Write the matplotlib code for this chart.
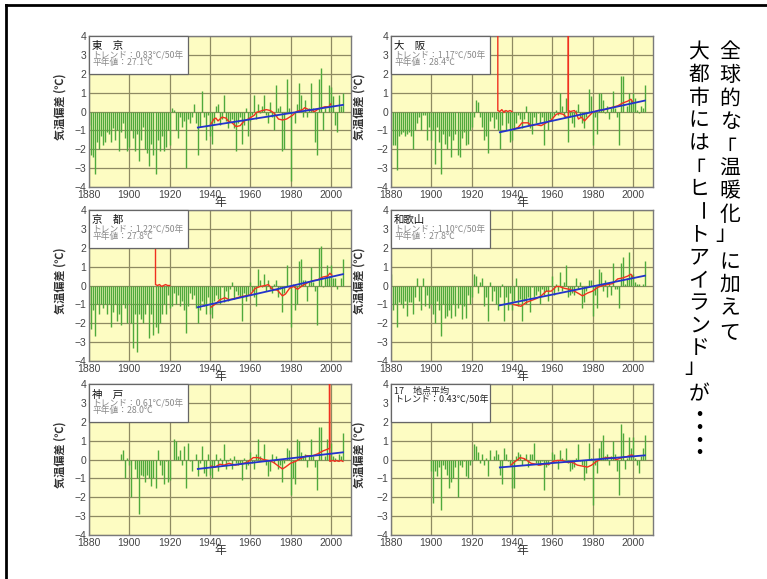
import numpy as np
import matplotlib.pyplot as plt
from matplotlib.patches import Rectangle
from matplotlib.lines import Line2D

plt.rcParams['font.family'] = ['Liberation Sans', 'Noto Sans CJK JP', 'DejaVu Sans']
JP = ['Noto Sans CJK JP', 'DejaVu Sans']

years = np.arange(1880, 2007)
nan = None

# 夏の平均気温偏差 (1880-2006)
tokyo = [-0.7, -2.3, -2.4, -3.3, -1.6, -2.0, -1.3, -1.8, -1.6, -1.1,
         -1.2, -1.6, -0.9, -1.5, -1.0, -2.1, -1.1, -0.6, -1.4, -2.1,
         -1.9, -1.0, -1.4, -2.1, -1.2, -2.6, -1.5, -0.8, -2.0, -2.2,
         -2.9, -1.7, -2.3, -3.3, -1.5, -2.1, -1.3, -2.1, -1.9, -1.0,
         -1.8, 0.2, 0.1, -1.0, -1.4, -0.3, -0.8, -0.5, -3.0, -0.4,
         -0.6, -0.3, 0.4, -0.6, -2.3, -0.8, 1.1, -0.3, -1.5, -0.2,
         -1.3, -1.7, -0.6, 0.3, 0.4, -0.7, -0.4, 0.9, -0.5, -0.9,
         -0.5, -0.4, -0.9, -2.1, -0.6, -0.3, -1.7, -0.7, 0.2, -1.3,
         -0.5, -0.2, 0.9, -0.4, 0.4, -0.1, 0.3, 0.9, -0.2, -0.6,
         0.5, -0.3, -1.0, 1.4, 0.2, 0.3, -2.1, -2.0, 1.7, 0.2,
         -3.7, 0.0, -0.6, 0.4, 1.5, 0.9, -0.3, 0.6, -0.3, 0.2,
         1.5, 0.2, -1.6, -2.3, 1.7, 2.3, -1.0, 0.2, 0.0, 1.4,
         1.3, 0.8, -0.7, -1.1, 0.9, 0.3, 1.0]
osaka = [-1.0, -1.8, -1.8, -3.1, -1.3, -1.2, -1.1, -1.3, -1.2, -1.1,
         -1.3, -2.0, -1.0, -0.6, -0.3, -1.0, -0.2, -0.2, -1.5, -0.8,
         -1.5, -1.0, -2.8, -0.8, -1.6, -3.3, -1.2, -1.7, -2.0, -1.3,
         -2.4, -1.5, -1.2, -2.3, -2.4, -1.4, -1.1, -1.8, -1.7, -1.0,
         -0.8, -0.3, 0.6, 0.5, -0.3, -0.8, -1.5, -1.3, -2.2, -0.5,
         -0.3, -0.9, -0.4, -1.0, -2.0, -0.7, 0.1, -1.0, -0.6, -1.6,
         -1.5, -1.0, -0.6, -0.2, -0.4, -0.9, -0.4, 0.3, -0.7, -0.9,
         -1.2, -0.3, -0.6, -0.1, -0.6, -0.3, -1.8, -0.5, -1.0, -0.4,
         -0.5, -0.2, 0.1, -0.2, 1.0, 0.3, -0.3, 0.7, -1.6, -0.3,
         -0.6, -0.8, 0.1, 0.4, -0.3, -0.6, -0.9, -0.3, 1.2, 0.8,
         -1.8, -0.3, -1.2, 1.0, 1.0, 0.6, -0.1, 0.3, -0.4, 0.2,
         1.1, 0.2, -0.3, -1.8, 1.9, 1.9, 0.0, 0.3, 1.0, 0.6,
         1.0, 0.7, 0.1, -0.1, 0.3, 0.2, 1.4]
kyoto = [-1.0, -2.3, -1.3, -2.7, -1.0, -1.5, -1.0, -1.2, -1.0, -1.5,
         -1.0, -2.2, -1.4, -1.0, -1.9, -1.5, -2.1, -1.0, -1.2, -2.0,
         -1.0, -2.0, -3.3, -1.5, -3.5, -1.5, -1.8, -2.0, -1.5, -1.0,
         -2.8, -1.5, -2.6, -2.2, -2.5, -2.0, -1.5, -1.0, -1.5, -0.5,
         -1.2, -1.1, -0.4, -1.0, -0.5, -1.1, -0.8, -1.3, -2.5, -1.1,
         -0.4, -0.7, -0.5, -1.2, -2.0, -1.3, -0.8, -1.1, -1.5, -0.6,
         -1.5, -1.7, -0.8, -0.5, -0.7, -1.0, -0.1, -0.9, -0.3, -0.8,
         -0.2, 0.2, -0.7, -0.3, -0.5, -0.6, -1.9, -0.4, -0.8, -0.5,
         0.2, -0.3, -0.6, -1.1, 0.9, 0.3, -0.1, 0.6, -0.3, 0.3,
         -0.2, -0.4, 0.1, 0.3, -0.6, -0.2, -1.4, -0.4, 1.1, -0.1,
         -2.2, 0.1, -1.3, -1.0, 1.3, 1.4, 0.3, 0.3, -0.8, 0.2,
         1.0, 0.2, -0.3, -2.1, 2.0, 2.1, -0.1, 0.4, 1.1, 0.5,
         1.1, 0.4, 0.4, -0.2, 0.0, 0.4, 1.4]
wakayama = [0.6, -1.3, -1.0, -2.2, -0.9, -1.0, -1.2, -0.8, -1.6, -0.9,
            -0.9, -1.5, -0.6, 0.4, -0.8, -1.3, 0.4, -1.1, -0.5, -1.2,
            -1.0, -1.5, -2.0, -0.8, -1.3, -2.7, -1.0, -1.7, -1.6, -1.3,
            -1.7, -1.0, -1.6, -1.2, -1.0, -1.8, -1.1, -1.7, -0.5, -1.0,
            -0.6, 0.6, 0.5, -0.4, 0.2, 0.4, -1.1, -0.6, -1.9, 0.2,
            -0.8, -0.3, -1.0, -1.3, -0.6, 0.1, -1.9, -0.6, -1.3, -0.4,
            -1.3, -0.8, 0.4, -1.1, -0.7, -1.9, -0.8, -1.0, -0.6, -1.4,
            -0.1, -0.6, -0.5, -0.3, -1.0, -0.2, -0.5, -0.3, -0.8, 0.0,
            0.5, -0.5, 0.1, -0.3, 0.7, -0.3, 0.2, 1.1, -0.6, -0.5,
            -0.4, -0.5, 0.4, -0.2, 0.2, -1.2, -0.9, -0.3, 0.3, 0.3,
            -1.6, -0.5, -1.2, 0.9, 0.7, -0.3, 0.3, -0.6, 0.2, -0.5,
            1.2, -0.2, -0.2, -1.2, 1.2, 1.5, 0.1, 0.4, 1.8, 0.6,
            0.6, 0.2, 0.1, 0.1, 0.0, 0.1, 1.3]
kobe = [nan] * 16 + [0.3, 0.5, -1.0, 0.1,
        -0.3, -2.0, 0.0, -0.5, -1.0, -2.9, -0.8, -0.9, -1.2, -0.8,
        -1.0, -1.4, -1.0, -1.5, 0.5, -0.3, -0.8, -1.3, -0.1, -1.2,
        -1.1, 0.0, 1.1, 1.0, 0.2, 0.5, -0.3, 0.7, -1.5, 0.9,
        -0.1, -0.6, 0.0, 0.3, -0.9, -0.2, 0.7, -0.7, -0.9, 0.3,
        -0.8, -1.0, -0.4, 0.3, -0.6, 0.1, -0.3, 0.8, -0.5, -0.1,
        0.1, -0.5, 0.2, -0.2, -0.3, -0.2, -1.1, 0.1, -0.5, -0.3,
        0.4, -0.2, -0.5, 0.3, 1.1, 0.2, 0.0, 0.8, -0.3, -0.9,
        -0.6, 0.3, -0.2, 0.2, -0.5, -0.3, -1.2, -0.2, 0.6, 0.5,
        -1.9, -1.0, -1.3, 1.1, 1.0, 0.4, 0.2, 0.3, -0.4, 0.2,
        1.1, 0.2, -0.4, -1.6, 1.7, 1.7, 0.0, 0.2, 1.1, 0.4,
        0.9, 0.2, 0.1, -0.1, 0.3, 0.2, 1.4]
avg17 = [nan] * 20 + [
         -0.6, -2.3, -0.6, -0.9, -0.4, -2.7, -0.3, -0.5, -0.8, -1.5,
         -1.2, -1.0, -0.4, -2.0, -0.3, -0.4, -0.1, -0.9, -1.0, -0.3,
         -0.1, 0.8, 0.7, 0.4, -0.2, 0.3, -0.3, 0.1, -0.9, 0.5,
         0.0, 0.2, 0.5, 0.3, -0.8, -1.3, 0.6, 0.3, -0.1, -0.3,
         -1.5, -1.5, 0.2, 0.4, 0.3, -0.3, 0.1, 0.3, -0.4, 0.3,
         0.3, 0.9, -0.2, -0.3, -0.3, -0.1, -1.6, -0.4, -0.3, 0.0,
         0.4, 0.3, -0.1, -0.5, 0.5, 0.1, 0.0, 0.6, -0.2, -0.6,
         -0.5, -0.4, 0.1, 0.8, -0.1, -0.3, -1.1, -0.7, 0.9, 0.1,
         -2.4, -0.3, -0.7, 0.6, 1.0, 1.3, 0.2, 0.3, -0.3, 0.2,
         1.0, 0.3, -0.6, -1.9, 1.9, 1.4, -0.5, 0.1, 1.2, 0.6,
         1.2, 0.1, -0.3, -0.7, 0.2, 0.6, 1.3]

# 移動平均 (赤線): 9 は枠外へ伸びる縦線, None は途切れ
tokyo_ma_x = [1940, 1942, 1943, 1944, 1946, 1948, 1949, 1951, 1953, 1955, 1957, 1959, 1962, 1963, 1966,
              1968, 1970, 1972, 1974, 1976, 1978, 1981, 1983, 1986, 1987, 1989, 1992, 1994, 1997, 1999, 2000]
tokyo_ma_y = [-0.75, -0.4, -0.35, -0.5, -0.3, -0.35, -0.5, -0.6, -0.8, -0.75, -0.5, -0.4, -0.2, -0.05, 0.05,
              0.1, 0.05, -0.1, -0.4, -0.45, -0.4, -0.2, 0.0, 0.1, 0.2, 0.1, 0.0, 0.15, 0.25, 0.25, 0.4]
osaka_ma_x = [1933, 1933, 1934, 1935, 1936, 1937, 1938, 1939, 1940, 1940.1,
              1940.3, 1943, 1945, 1948, 1949.5, 1952, 1954.5, 1957, 1959.5, 1962, 1963.5, 1965.5, 1967,
              1968, 1968, 1968, 1969, 1971, 1972, 1973, 1974.5, 1976, 1977.7, 1980, 1982.5, 1986, 1989, 1992.5,
              1995, 1997.5, 1999, 2000]
osaka_ma_y = [9, 0.05, 0.0, 0.1, -0.05, 0.05, 0.0, 0.05, 0.0, nan,
              -0.95, -0.85, -0.6, -0.6, -0.75, -0.7, -0.75, -0.6, -0.45, -0.15, -0.1, -0.15, -0.3,
              -0.3, 9, 0.05, 0.0, 0.05, -0.1, -0.4, -0.3, -0.5, -0.3, -0.05, 0.05, 0.1, 0.2, 0.3,
              0.45, 0.55, 0.65, 0.5]
kyoto_ma_x = [1913, 1913, 1914, 1915, 1916, 1917, 1918, 1919, 1920, 1920.1,
              1940.5, 1942.5, 1945, 1947.5, 1949.5, 1952, 1955, 1957.5, 1960, 1962.5, 1965, 1967.5, 1969,
              1971, 1973.5, 1976, 1977.5, 1979.5, 1981.5, 1983.5, 1986, 1988.5, 1991, 1993.5, 1996, 1998.5,
              1999.5, 2000.5]
kyoto_ma_y = [9, 0.05, 0.0, 0.05, -0.05, 0.0, 0.05, 0.0, 0.0, nan,
              -1.15, -1.0, -0.75, -0.65, -0.75, -0.7, -0.6, -0.55, -0.5, -0.15, -0.05, 0.0, 0.05,
              -0.2, -0.25, -0.55, -0.45, -0.15, -0.05, -0.2, 0.0, 0.15, 0.25, 0.3, 0.45, 0.5,
              0.65, 0.55]
wakayama_ma_x = [1940.5, 1942.5, 1944.5, 1947, 1949.5, 1952, 1954.5, 1957, 1959.5, 1962, 1963.5, 1966,
                 1968.5, 1971, 1973.5, 1975, 1977.5, 1980, 1982.5, 1985, 1987.5, 1990, 1992.5, 1995,
                 1997.5, 1999, 2000]
wakayama_ma_y = [-1.0, -1.05, -1.1, -0.9, -0.8, -0.7, -0.55, -0.3, -0.3, -0.05, -0.05, -0.15,
                 -0.2, -0.3, -0.45, -0.55, -0.4, -0.3, -0.1, 0.0, 0.05, 0.1, 0.35, 0.4,
                 0.5, 0.6, 0.45]
kobe_ma_x = [1940.5, 1942.5, 1945, 1947, 1949.5, 1952.5, 1955, 1958.5, 1961.5, 1964, 1966.5, 1969,
             1971.5, 1974, 1976, 1977.5, 1980, 1982.5, 1985, 1988, 1991, 1993.5, 1996, 1998.5, 1999.3,
             1999.3, 1999.5, 2001, 2002, 2003, 2004, 2005, 2006]
kobe_ma_y = [-0.35, -0.4, -0.25, -0.3, -0.2, -0.3, -0.25, -0.15, 0.1, 0.1, 0.0, -0.05,
             -0.15, -0.35, -0.5, -0.4, -0.2, -0.1, 0.05, 0.2, 0.2, 0.3, 0.45, 0.55, 0.6,
             9, -0.1, -0.05, -0.1, -0.05, -0.1, -0.05, -0.1]
avg17_ma_x = [1939.5, 1941, 1943, 1944, 1946, 1947.5, 1949.5, 1952, 1953.5, 1956, 1958.5, 1960.5,
              1962.5, 1965, 1967.5, 1970, 1972.5, 1975, 1977.5, 1979.5, 1982, 1984.5, 1987, 1989.5,
              1992, 1994.5, 1997, 1999.5, 2000.5]
avg17_ma_y = [-0.3, -0.15, 0.0, 0.1, 0.05, -0.05, -0.2, -0.25, -0.3, -0.25, -0.25, -0.1,
              -0.05, -0.05, -0.15, -0.15, -0.3, -0.35, -0.4, -0.3, -0.1, 0.05, 0.1, 0.1,
              0.0, 0.1, 0.15, 0.25, 0.15]

# 長期傾向 (青線) 1934 -> 2006
trend_years = [1934, 2006]
tokyo_trend = [-0.85, 0.35]
osaka_trend = [-1.1, 0.58]
kyoto_trend = [-1.15, 0.6]
wakayama_trend = [-1.05, 0.52]
kobe_trend = [-0.5, 0.38]
avg17_trend = [-0.42, 0.22]

names = ['東　京', '大　阪', '京　都', '和歌山', '神　戸', '17　地点平均']
trend_text = ['0.83', '1.17', '1.22', '1.10', '0.61', '0.43']
normal_text = ['27.1', '28.4', '27.8', '27.8', '28.0', None]

series = [tokyo, osaka, kyoto, wakayama, kobe, avg17]
ma_x = [tokyo_ma_x, osaka_ma_x, kyoto_ma_x, wakayama_ma_x, kobe_ma_x, avg17_ma_x]
ma_y = [tokyo_ma_y, osaka_ma_y, kyoto_ma_y, wakayama_ma_y, kobe_ma_y, avg17_ma_y]
trends = [tokyo_trend, osaka_trend, kyoto_trend, wakayama_trend, kobe_trend, avg17_trend]

W, H = 767, 579
fig = plt.figure(figsize=(W / 100, H / 100), dpi=100)

col_x = [89, 391]
row_top = [36, 210, 384]
aw, ah = 262, 151

for i in range(6):
    r, c = divmod(i, 2)
    ax = fig.add_axes([col_x[c] / W, 1 - (row_top[r] + ah) / H, aw / W, ah / H])
    ax.set_facecolor('#fdfcc2')
    vals = np.array(series[i], dtype=float)
    ok = ~np.isnan(vals)
    ax.vlines(years[ok], 0, vals[ok], color='#4fa93c', lw=1.0, zorder=2)
    ax.plot(np.array(ma_x[i], dtype=float), np.array(ma_y[i], dtype=float),
            color='#f03020', lw=1.0, zorder=3)
    ax.plot(trend_years, trends[i], color='#2233cc', lw=1.3, zorder=4)

    ax.set_xlim(1880, 2010)
    ax.set_ylim(-4, 4)
    ax.set_xticks(range(1880, 2001, 20))
    ax.set_yticks(range(-4, 5))
    ax.set_axisbelow(True)
    ax.grid(color='#8e8a62', lw=0.9)
    ax.tick_params(length=0, labelsize=7.5, labelcolor='#444', pad=2)
    for s in ax.spines.values():
        s.set_color('#7a7a7a')
        s.set_linewidth(1)

    ax.set_ylabel('気温偏差 (℃)', fontsize=8, color='#333', fontweight='bold', family=JP)
    ax.yaxis.set_label_coords(-0.084 if c == 0 else -0.099, 0.53)
    ax.set_xlabel('年', fontsize=8.5, color='#333', family=JP)
    ax.xaxis.set_label_coords(0.5, -0.06)

    ax.add_patch(Rectangle((1880, 2), 49, 2.02, facecolor='white', edgecolor='#666',
                           lw=0.9, zorder=5, clip_on=False))
    if normal_text[i] is not None:
        ax.text(1881.5, 3.45, names[i], fontsize=7.5, family=JP, color='#111', zorder=6, va='center')
        ax.text(1881.5, 2.95, 'トレンド：' + trend_text[i] + '℃/50年', fontsize=6.3, family=JP,
                color='#888', zorder=6, va='center')
        ax.text(1881.5, 2.6, '平年値：' + normal_text[i] + '℃', fontsize=6.3, family=JP,
                color='#888', zorder=6, va='center')
    else:
        ax.text(1881.5, 3.62, names[i], fontsize=6.5, family=JP, color='#222', zorder=6, va='center')
        ax.text(1881.5, 3.15, 'トレンド：' + trend_text[i] + '℃/50年', fontsize=6.5, family=JP,
                color='#222', zorder=6, va='center')

# 右側の縦書き
col_texts = [('全球的な「温暖化」に加えて', 730, 23.3), ('大都市には「ヒートアイランド」が', 699, 22.8)]
for text, xc, step in col_texts:
    for k, ch in enumerate(text):
        dx, dy, rot = 0, 0, 0
        if ch == 'ー':
            rot = -90
        elif ch == '「':
            dx, dy = -4, 4
        elif ch == '」':
            dx, dy = -4, -4
        fig.text((xc + dx) / W, 1 - (52 + k * step + dy) / H, ch, fontsize=15, family=JP,
                 ha='center', va='center', rotation=rot, color='black')
# 「・・・・」
last_y = 52 + (len(col_texts[1][0]) - 1) * col_texts[1][2]
for k in range(4):
    fig.text(699 / W, 1 - (last_y + 22 + k * 12.5) / H, '・', fontsize=13, family=JP,
             fontweight='bold', ha='center', va='center', color='black')

# 枠線 (左と上)
fig.add_artist(Line2D([6 / W, 6 / W], [0, 1 - 5 / H], transform=fig.transFigure, color='black', lw=2))
fig.add_artist(Line2D([6 / W, 1], [1 - 5 / H, 1 - 5 / H], transform=fig.transFigure, color='black', lw=2))

fig.savefig('out.png', dpi=100)
